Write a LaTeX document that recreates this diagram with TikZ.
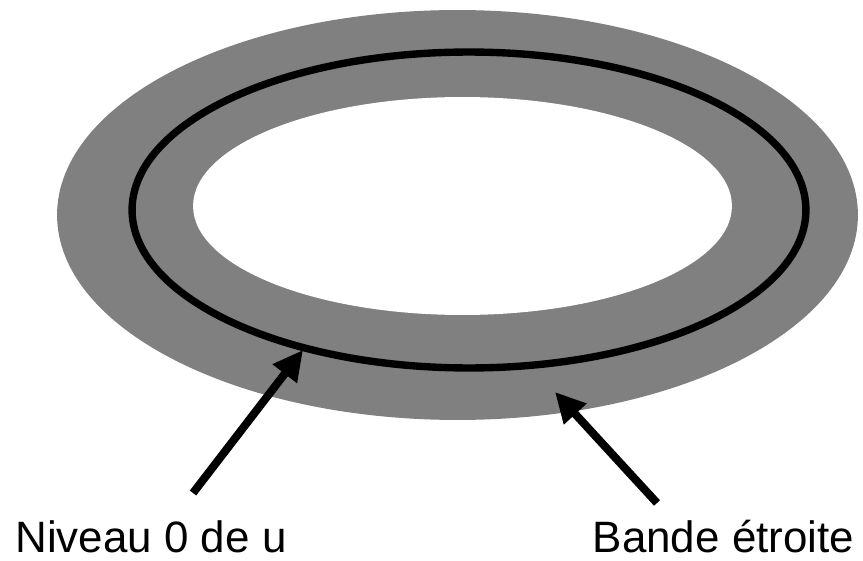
\documentclass[tikz,border=0pt]{standalone}
\usepackage{fontspec}
\setmainfont{Liberation Sans}
\usepackage{tikz}
\usetikzlibrary{arrows.meta, positioning}

\definecolor{bandgray}{RGB}{128,128,128}

\begin{document}
\begin{tikzpicture}[x=0.02cm, y=-0.02cm,
        label/.style={anchor=base, inner sep=0pt, font=\fontsize{25}{30}\selectfont},
        pointer/.style={-{Triangle[length=0.6cm, width=0.58cm]}, line width=4.6pt}]
            \useasboundingbox (0,0) rectangle (863,561);
            % narrow band around the level set
            \fill[bandgray] (457.5,215) ellipse [x radius=8.01cm, y radius=4.1cm];
            \fill[white] (462.5,206) ellipse [x radius=5.39cm, y radius=2.18cm];
            \draw[line width=4.2pt] (469,210) ellipse [x radius=6.74cm, y radius=3.16cm];
            % labels
            \node[label] (niveau) at (151,552) {Niveau 0 de u};
            \node[label] (bande) at (723.5,552) {Bande étroite};
            \coordinate (niveautail) at (193,493);
            \coordinate (niveautip) at (303,350);
            \coordinate (bandetail) at (657,503);
            \coordinate (bandetip) at (555,392);
            \draw[pointer] (niveautail) -- (niveautip);
            \draw[pointer] (bandetail) -- (bandetip);
        \end{tikzpicture}
\end{document}
